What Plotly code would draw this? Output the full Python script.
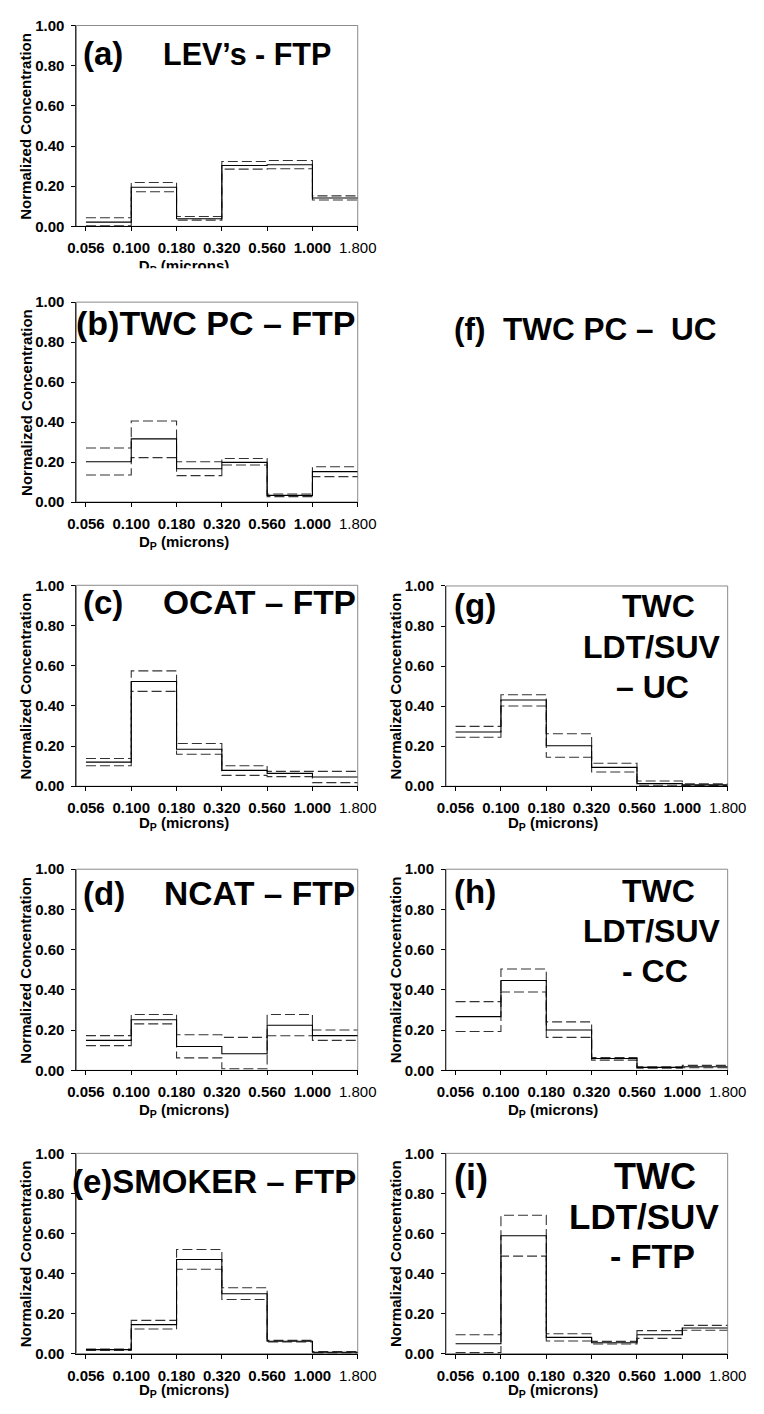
import plotly.graph_objects as go

W, H = 764, 1414
FONT = "Liberation Sans, Arial, sans-serif"

# Particle-size bin edges (DP, microns)
size_edges = ["0.056", "0.100", "0.180", "0.320", "0.560", "1.000", "1.800"]
y_ticks = [0.0, 0.2, 0.4, 0.6, 0.8, 1.0]

# Normalized concentration per size bin: mean and upper/lower bounds
lev_ftp_mean = [0.021, 0.195, 0.038, 0.303, 0.307, 0.141]
lev_ftp_upper = [0.043, 0.218, 0.049, 0.323, 0.328, 0.152]
lev_ftp_lower = [0.003, 0.172, 0.031, 0.285, 0.287, 0.131]

twc_pc_ftp_mean = [0.201, 0.316, 0.166, 0.198, 0.033, 0.152]
twc_pc_ftp_upper = [0.270, 0.405, 0.201, 0.218, 0.040, 0.176]
twc_pc_ftp_lower = [0.135, 0.222, 0.132, 0.185, 0.027, 0.127]

ocat_ftp_mean = [0.120, 0.521, 0.184, 0.079, 0.064, 0.046]
ocat_ftp_upper = [0.138, 0.574, 0.213, 0.102, 0.074, 0.074]
ocat_ftp_lower = [0.102, 0.472, 0.159, 0.054, 0.048, 0.018]

ncat_ftp_mean = [0.149, 0.252, 0.119, 0.083, 0.224, 0.173]
ncat_ftp_upper = [0.173, 0.278, 0.177, 0.164, 0.278, 0.201]
ncat_ftp_lower = [0.123, 0.231, 0.062, 0.008, 0.172, 0.149]

smoker_ftp_mean = [0.020, 0.145, 0.470, 0.299, 0.062, 0.007]
smoker_ftp_upper = [0.023, 0.166, 0.520, 0.329, 0.066, 0.010]
smoker_ftp_lower = [0.016, 0.123, 0.421, 0.270, 0.058, 0.004]

ldt_uc_mean = [0.271, 0.431, 0.202, 0.094, 0.013, 0.007]
ldt_uc_upper = [0.299, 0.457, 0.262, 0.115, 0.026, 0.012]
ldt_uc_lower = [0.245, 0.401, 0.145, 0.071, 0.005, 0.003]

ldt_cc_mean = [0.267, 0.447, 0.201, 0.059, 0.015, 0.018]
ldt_cc_upper = [0.342, 0.504, 0.241, 0.064, 0.018, 0.025]
ldt_cc_lower = [0.193, 0.390, 0.164, 0.051, 0.011, 0.013]

ldt_ftp_mean = [0.049, 0.589, 0.081, 0.054, 0.094, 0.128]
ldt_ftp_upper = [0.094, 0.691, 0.099, 0.061, 0.115, 0.141]
ldt_ftp_lower = [0.005, 0.487, 0.063, 0.048, 0.076, 0.117]

# Panel layout in pixels: column (left, right, x-title centre), rows, headings
# heading entries: (text, x, y, anchor, font size)
COLS = {"L": (70, 362, 181.7), "R": (453.7, 746, 564.5)}
panels = [
    dict(col="L", top=16.7, bot=220, data=(lev_ftp_mean, lev_ftp_upper, lev_ftp_lower),
         xt_y=None,
         titles=[("(a)", 74.6, 45, "left", 33), ("LEV’s - FTP", 336, 46, "right", 30.5)]),
    dict(col="L", top=296.7, bot=499, data=(twc_pc_ftp_mean, twc_pc_ftp_upper, twc_pc_ftp_lower),
         xt_y=540, titles=[("(b)TWC PC – FTP", 362.5, 318, "right", 34)]),
    dict(col="L", top=583.3, bot=786.7, data=(ocat_ftp_mean, ocat_ftp_upper, ocat_ftp_lower),
         xt_y=824, titles=[("(c)", 74.6, 601, "left", 33), ("OCAT – FTP", 362.5, 601, "right", 33.5)]),
    dict(col="L", top=870.7, bot=1074.3, data=(ncat_ftp_mean, ncat_ftp_upper, ncat_ftp_lower),
         xt_y=1115, titles=[("(d)", 74.6, 895, "left", 33), ("NCAT – FTP", 361, 895, "right", 33.5)]),
    dict(col="L", top=1158.3, bot=1361, data=(smoker_ftp_mean, smoker_ftp_upper, smoker_ftp_lower),
         xt_y=1398, titles=[("(e)SMOKER – FTP", 362.5, 1187, "right", 33)]),
    dict(col="R", top=584, bot=786.7, data=(ldt_uc_mean, ldt_uc_upper, ldt_uc_lower),
         xt_y=824, titles=[("(g)", 460, 604, "left", 33), ("TWC", 674.5, 604, "center", 32),
                           ("LDT/SUV", 667, 646, "center", 32), ("– UC", 668, 686, "center", 32)]),
    dict(col="R", top=870.7, bot=1074.3, data=(ldt_cc_mean, ldt_cc_upper, ldt_cc_lower),
         xt_y=1115, titles=[("(h)", 460, 893, "left", 33), ("TWC", 674.5, 892.5, "center", 32),
                            ("LDT/SUV", 667, 933, "center", 32), ("- CC", 671, 974, "center", 32)]),
    dict(col="R", top=1158.3, bot=1361, data=(ldt_ftp_mean, ldt_ftp_upper, ldt_ftp_lower),
         xt_y=1398, titles=[("(i)", 460, 1183, "left", 36), ("TWC", 670.7, 1182, "center", 36),
                            ("LDT/SUV", 659, 1222.5, "center", 35), ("- FTP", 668, 1262.5, "center", 34)]),
]


def px_x(v):
    return v / W


def px_y(v):
    return 1 - v / H


fig = go.Figure()
annotations = []
shapes = []
xs = list(range(len(size_edges)))
ticktext = ["<b>%s</b>" % s for s in size_edges[:-1]] + [size_edges[-1]]

for i, p in enumerate(panels):
    n = i + 1
    sfx = "" if n == 1 else str(n)
    left, right, xt_x = COLS[p["col"]]
    mean, upper, lower = p["data"]
    for vals, dash, color in ((upper, "10px,4px", "#333333"),
                              (lower, "10px,4px", "#333333"),
                              (mean, "solid", "#000000")):
        fig.add_trace(go.Scatter(
            x=xs, y=list(vals) + [vals[-1]], mode="lines", line_shape="hv",
            line=dict(color=color, width=1.1, dash=dash),
            xaxis="x" + sfx, yaxis="y" + sfx, showlegend=False, hoverinfo="skip"))

    fig.layout["xaxis" + sfx] = dict(
        domain=[px_x(left), px_x(right)], anchor="y" + sfx, range=[-0.21, 6],
        tickmode="array", tickvals=xs, ticktext=ticktext, tickangle=0,
        ticks="outside", ticklen=4, tickcolor="#000", showline=True, linecolor="#000",
        linewidth=1, showgrid=False, zeroline=False, ticklabelstandoff=4,
        tickfont=dict(family=FONT, size=15, color="#000"))
    fig.layout["yaxis" + sfx] = dict(
        domain=[px_y(p["bot"]), px_y(p["top"])], anchor="x" + sfx, range=[0, 1],
        tickmode="array", tickvals=y_ticks, ticktext=["%.2f" % v for v in y_ticks],
        ticks="outside", ticklen=4, tickcolor="#000", showline=True, linecolor="#333",
        linewidth=1, showgrid=False, zeroline=False, ticklabelstandoff=4,
        tickfont=dict(family=FONT, size=15, color="#000", weight="bold"))

    shapes.append(dict(type="rect", xref="x%s domain" % sfx, yref="y%s domain" % sfx,
                       x0=0, x1=1, y0=0, y1=1, line=dict(color="#8a8a8a", width=1),
                       layer="below"))

    annotations.append(dict(
        text="<b>Normalized Concentration</b>", textangle=-90, showarrow=False,
        xref="paper", yref="paper", x=px_x(left - 52.5), y=px_y((p["top"] + p["bot"]) / 2),
        xanchor="center", yanchor="middle", font=dict(family=FONT, size=15, color="#000")))
    if p["xt_y"] is not None:
        annotations.append(dict(
            text="<b>D<sub>P</sub> (microns)</b>", showarrow=False,
            xref="paper", yref="paper", x=px_x(xt_x), y=px_y(p["xt_y"]),
            xanchor="center", yanchor="middle", font=dict(family=FONT, size=15, color="#000")))
    for text, tx, ty, anchor, fs in p["titles"]:
        annotations.append(dict(
            text="<b>%s</b>" % text, showarrow=False, xref="paper", yref="paper",
            x=px_x(tx), y=px_y(ty), xanchor=anchor, yanchor="middle",
            font=dict(family=FONT, size=fs, color="#000")))

# Panel (f) has only its heading
annotations.append(dict(
    text="<b>(f)  TWC PC –  UC</b>", showarrow=False, xref="paper", yref="paper",
    x=px_x(460), y=px_y(324), xanchor="left", yanchor="middle",
    font=dict(family=FONT, size=31.5, color="#000")))

# Top panel's x-title sits under the next row and is cut off: draw it as text
# clipped to a thin strip so only its upper half shows
strip = len(panels) + 1
fig.add_trace(go.Scatter(
    x=[181.7], y=[-261.5], mode="text", text=["<b>D<sub>P</sub> (microns)</b>"],
    textposition="middle center", cliponaxis=True,
    textfont=dict(family=FONT, size=15, color="#000"),
    xaxis="x%d" % strip, yaxis="y%d" % strip, showlegend=False, hoverinfo="skip"))
fig.layout["xaxis%d" % strip] = dict(domain=[0, px_x(382)], range=[0, 382], visible=False,
                                     anchor="y%d" % strip)
fig.layout["yaxis%d" % strip] = dict(domain=[px_y(262.5), px_y(240)], range=[-262.5, -240],
                                     visible=False, anchor="x%d" % strip)

fig.update_layout(
    width=W, height=H, margin=dict(l=0, r=0, t=0, b=0),
    paper_bgcolor="white", plot_bgcolor="white",
    annotations=annotations, shapes=shapes,
    font=dict(family=FONT, color="#000"))

fig.write_html("out.html")
